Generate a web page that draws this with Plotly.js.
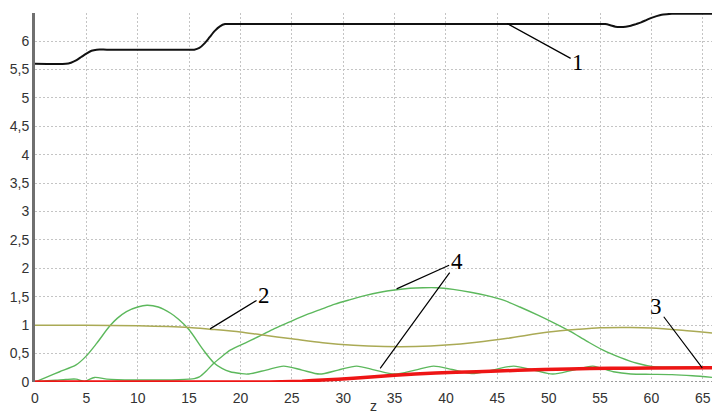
<!DOCTYPE html>
<html><head><meta charset="utf-8">
<script src="https://cdn.plot.ly/plotly-3.0.1.min.js"></script>
<style>html,body{margin:0;padding:0;background:#fff;}#chart{width:712px;height:414px;}</style>
</head><body><div id="chart"></div>
<script>
// Curve 1 (black)
const z1 = [0,3,3.5,4,4.5,5,5.5,6,7,15,15.5,16,16.5,17,17.5,18,18.5,19,20,54.5,55.5,56,56.5,57,57.5,58,58.5,59,59.5,60,60.5,61,61.5,62,63,66];
const v1 = [5.6,5.6,5.62,5.66,5.72,5.78,5.83,5.85,5.85,5.85,5.85,5.88,5.96,6.07,6.18,6.26,6.3,6.3,6.3,6.3,6.3,6.28,6.255,6.25,6.255,6.27,6.3,6.33,6.37,6.41,6.44,6.465,6.475,6.48,6.48,6.48];
// Curve 2 (olive)
const z2 = [0,5,10,15,17,20,22,25,28,31,34,37,40,43,46,50,53,55,58,60,63,66];
const v2 = [1.0,1.0,0.99,0.96,0.93,0.88,0.83,0.76,0.69,0.645,0.625,0.625,0.65,0.70,0.77,0.88,0.93,0.955,0.96,0.95,0.91,0.86];
// Curve 3 (red)
const z3 = [0,22,24,26,28,31,35,39,43,47,52,56,60,66];
const v3 = [0,0,0.005,0.015,0.035,0.065,0.12,0.16,0.18,0.205,0.23,0.24,0.245,0.25];
// Curve 4a (green: bump, then oscillation)
const z4a = [0,1.2,2.4,4,5,6,7.25,8,8.9,10,10.9,12,13.2,14,15,16.4,17.4,18.2,19,20,20.7,22.5,24.2,26,27.7,29.5,31.3,33.1,35,37,38.8,40.6,42.5,44.5,46.6,48.5,50.4,52.4,54.3,56.3,58,60,62,64,66];
const v4a = [0,0.09,0.18,0.30,0.46,0.68,0.98,1.12,1.24,1.32,1.35,1.32,1.21,1.1,0.92,0.56,0.34,0.24,0.18,0.15,0.14,0.21,0.28,0.21,0.14,0.21,0.28,0.21,0.14,0.21,0.28,0.22,0.15,0.21,0.28,0.21,0.14,0.21,0.28,0.18,0.14,0.135,0.13,0.11,0.08];
// Curve 4b (green: low, then large arc)
const z4b = [0,1,2,3,4,4.8,5.8,7,8,10,12,14,15,15.5,16,16.7,17.4,18.2,19,20.5,21.9,23.3,24.8,26.2,27.7,29.2,30.7,32.1,33.6,35,36.5,37.8,39.1,40.7,42.4,44,45.6,47.2,48.9,50.5,52.1,53.7,55.3,57,58.6,60.2,62,64,66];
const v4b = [0,0.02,0.03,0.045,0.05,0.01,0.08,0.05,0.04,0.035,0.035,0.04,0.05,0.06,0.09,0.2,0.33,0.45,0.56,0.69,0.81,0.94,1.06,1.17,1.27,1.37,1.45,1.52,1.58,1.62,1.65,1.66,1.66,1.63,1.58,1.52,1.44,1.32,1.18,1.04,0.89,0.72,0.56,0.43,0.33,0.27,0.26,0.26,0.26];
// Callout labels
const labels = ['1','2','3','4'];

const traces = [
  {x:z4b, y:v4b, mode:'lines', line:{color:'#5cb85c', width:1.4, shape:'spline', smoothing:0.8}},
  {x:z4a, y:v4a, mode:'lines', line:{color:'#5cb85c', width:1.4, shape:'spline', smoothing:0.8}},
  {x:z2, y:v2, mode:'lines', line:{color:'#aaaa55', width:1.5, shape:'spline', smoothing:0.8}},
  {x:z3, y:v3, mode:'lines', line:{color:'#ee1515', width:3.5, shape:'spline', smoothing:0.6}},
  {x:z1, y:v1, mode:'lines', line:{color:'#111111', width:2, shape:'spline', smoothing:0.6}}
];

const lblFont = {family:'Liberation Serif, Times New Roman, serif', size:23, color:'#000'};
const arrowBase = {showarrow:true, arrowhead:0, arrowwidth:1.2, arrowcolor:'#000', xref:'x', yref:'y', font:lblFont, borderpad:1};
const annotations = [
  Object.assign({}, arrowBase, {x:45.96, y:6.31, ax:71, ay:39, text:labels[0]}),
  Object.assign({}, arrowBase, {x:17.04, y:0.935, ax:54, ay:-33, text:labels[1]}),
  Object.assign({}, arrowBase, {x:64.95, y:0.25, ax:-46, ay:-61, text:labels[2]}),
  Object.assign({}, arrowBase, {x:35.2, y:1.64, ax:60, ay:-27, text:labels[3]}),
  Object.assign({}, arrowBase, {x:33.6, y:0.24, ax:77, ay:-106, text:labels[3], font:Object.assign({}, lblFont, {color:'rgba(0,0,0,0)'})})
];

const tickFont = {family:'Liberation Sans, Arial, sans-serif', size:14, color:'#333'};
const layout = {
  width:712, height:414,
  margin:{l:35, r:0, t:13, b:32},
  paper_bgcolor:'#fff', plot_bgcolor:'#fff',
  showlegend:false,
  separators:', ',
  xaxis:{range:[0,65.9], dtick:5, tick0:0, showgrid:true, gridcolor:'#c4c4c4', griddash:'2px,2px', gridwidth:1,
         zeroline:false, showline:false, ticks:'', tickfont:tickFont, ticklabelstandoff:6,
         title:{text:'z', font:{family:'Liberation Sans, Arial, sans-serif', size:14, color:'#333'}, standoff:11}},
  yaxis:{range:[0,6.495], dtick:0.5, tick0:0, showgrid:true, gridcolor:'#c4c4c4', griddash:'2px,2px', gridwidth:1,
         zeroline:false, showline:true, linecolor:'#707070', linewidth:3, ticks:'', tickfont:tickFont},
  shapes:[{type:'line', xref:'paper', x0:0, x1:1, yref:'y', y0:0, y1:0, line:{color:'#333', width:1, dash:'2px,2px'}, layer:'below'}],
  annotations:annotations
};
Plotly.newPlot('chart', traces, layout, {staticPlot:true, displayModeBar:false});
</script></body></html>
